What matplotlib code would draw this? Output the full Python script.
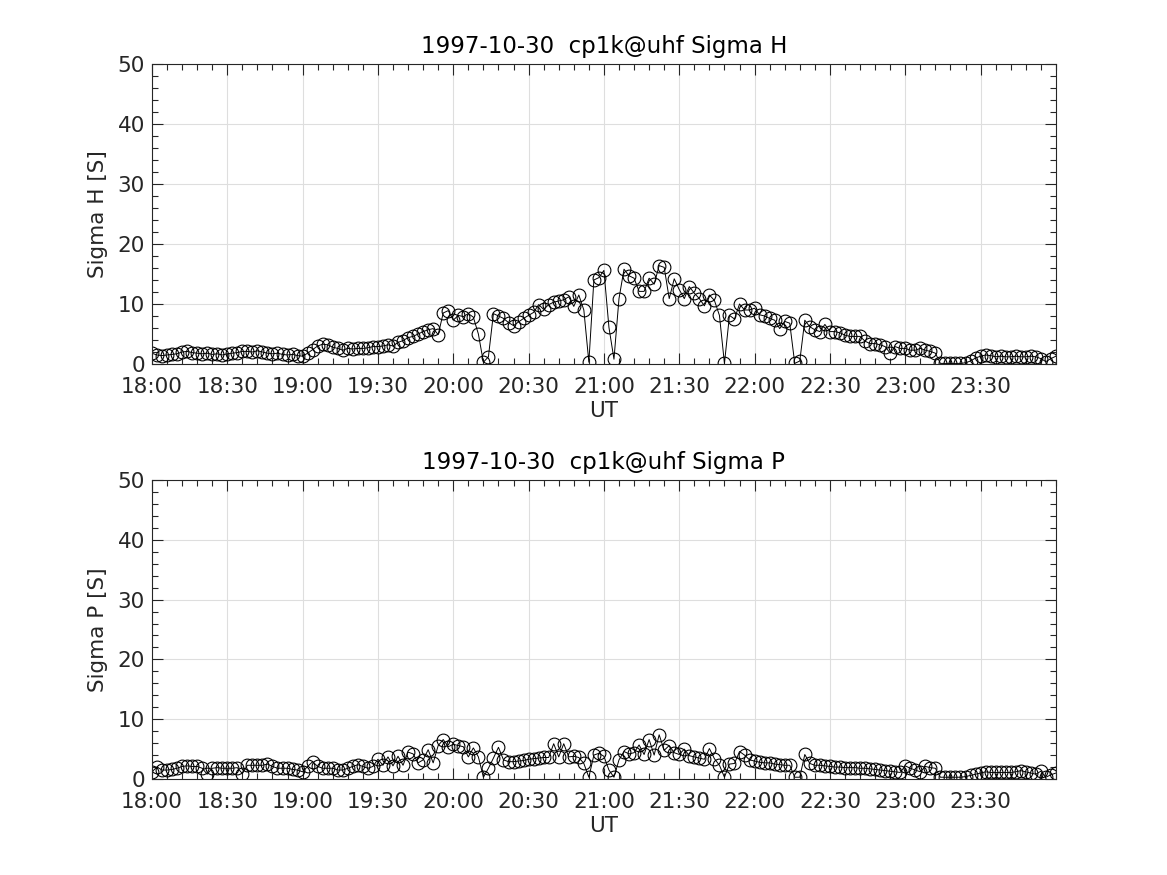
import numpy as np
import matplotlib
matplotlib.use("Agg")
from matplotlib import pyplot as plt
from matplotlib.ticker import MultipleLocator, FuncFormatter

# sample times: every 2 minutes from 18:00 UT
t_start_h = 18.0
t_step_min = 2.0

sigma_h = [
    1.8, 1.5, 1.4, 1.5, 1.6, 1.7, 2.0, 2.1, 1.9, 1.8,
    1.7, 1.8, 1.6, 1.7, 1.5, 1.7, 1.8, 1.9, 2.1, 2.1,
    2.0, 2.2, 2.0, 1.8, 1.7, 1.8, 1.6, 1.5, 1.6, 1.4,
    1.3, 1.8, 2.4, 3.0, 3.3, 3.2, 2.8, 2.6, 2.3, 2.6,
    2.5, 2.6, 2.6, 2.7, 2.9, 2.9, 3.0, 3.2, 3.0, 3.6,
    3.9, 4.4, 4.6, 5.0, 5.4, 5.7, 5.9, 4.9, 8.5, 8.9,
    7.3, 8.1, 7.9, 8.4, 7.8, 5.0, 0.3, 1.2, 8.4, 8.0,
    7.6, 6.9, 6.4, 7.0, 7.6, 8.1, 8.6, 9.9, 9.1, 9.9,
    10.3, 10.5, 10.7, 11.2, 9.6, 11.5, 9.0, 0.3, 14.0, 14.4,
    15.6, 6.1, 0.8, 10.9, 15.8, 14.7, 14.3, 12.1, 12.1, 14.3,
    13.3, 16.4, 16.1, 10.9, 14.2, 12.4, 10.9, 12.9, 11.8, 10.9,
    9.7, 11.5, 10.6, 8.1, 0.1, 8.1, 7.5, 10.0, 9.0, 9.0,
    9.3, 8.2, 8.0, 7.6, 7.3, 5.9, 7.1, 6.8, 0.1, 0.5,
    7.3, 6.2, 5.7, 5.4, 6.6, 5.4, 5.4, 5.2, 4.8, 4.6,
    4.6, 4.6, 3.8, 3.4, 3.4, 3.2, 2.9, 1.8, 2.9, 2.6,
    2.6, 2.3, 2.3, 2.6, 2.3, 2.1, 1.8, 0.1, 0.1, 0.1,
    0.1, 0.1, 0.2, 0.5, 1.0, 1.3, 1.5, 1.4, 1.2, 1.3,
    1.2, 1.2, 1.3, 1.2, 1.2, 1.3, 1.2, 0.9, 0.4, 0.9,
    1.3,
]

sigma_p = [
    1.2, 2.0, 1.5, 1.5, 1.6, 1.8, 2.1, 2.2, 2.1, 2.1,
    1.8, 0.8, 1.8, 1.9, 1.8, 1.8, 1.8, 1.9, 0.9, 2.3,
    2.3, 2.3, 2.3, 2.5, 2.1, 1.8, 1.8, 1.8, 1.6, 1.5,
    1.2, 2.1, 2.9, 2.1, 1.8, 1.8, 1.8, 1.5, 1.5, 1.8,
    2.1, 2.4, 2.1, 1.8, 2.1, 3.3, 2.3, 3.7, 2.2, 3.8,
    2.3, 4.5, 4.2, 2.7, 3.2, 4.9, 2.7, 5.6, 6.6, 5.4,
    5.8, 5.6, 5.4, 3.7, 5.2, 3.7, 0.3, 1.8, 3.5, 5.3,
    3.2, 2.9, 2.9, 3.0, 3.1, 3.3, 3.4, 3.5, 3.6, 3.6,
    5.9, 3.7, 5.9, 3.7, 3.8, 3.6, 2.6, 0.3, 4.0, 4.3,
    3.8, 1.5, 0.3, 3.2, 4.6, 4.2, 4.4, 5.7, 4.1, 6.6,
    4.0, 7.4, 4.8, 5.6, 4.4, 4.1, 5.0, 3.9, 3.7, 3.5,
    3.3, 5.1, 3.4, 2.3, 0.3, 2.5, 2.6, 4.6, 4.0, 3.2,
    3.0, 2.8, 2.7, 2.7, 2.5, 2.4, 2.3, 2.3, 0.3, 0.3,
    4.1, 2.6, 2.3, 2.3, 2.2, 2.1, 2.0, 2.0, 1.9, 1.9,
    1.9, 1.8, 1.8, 1.7, 1.6, 1.5, 1.4, 1.3, 1.2, 1.1,
    2.2, 1.8, 1.5, 1.2, 2.1, 1.9, 1.8, 0.3, 0.3, 0.3,
    0.3, 0.3, 0.4, 0.6, 0.8, 1.0, 1.2, 1.1, 1.1, 1.1,
    1.1, 1.1, 1.2, 1.4, 1.2, 1.0, 0.8, 1.3, 0.3, 0.7,
    1.0,
]

panels = [
    ("1997-10-30  cp1k@uhf Sigma H", "Sigma H [S]", sigma_h),
    ("1997-10-30  cp1k@uhf Sigma P", "Sigma P [S]", sigma_p),
]

txt = "#262626"
plt.rcParams["font.family"] = "DejaVu Sans"
plt.rcParams["font.size"] = 15.5

fig = plt.figure(figsize=(11.67, 8.75), dpi=100)
boxes = [[0.1302, 0.584, 0.7746, 0.3429], [0.1302, 0.1097, 0.7746, 0.3417]]


def hhmm(x, pos):
    h = int(round(x * 60)) // 60
    m = int(round(x * 60)) % 60
    return "{:02d}:{:02d}".format(h, m)


for box, (title, ylab, vals) in zip(boxes, panels):
    ax = fig.add_axes(box)
    t = t_start_h + np.arange(len(vals)) * t_step_min / 60.0
    ax.plot(t, vals, color="black", lw=0.7, marker="o", ms=9.2,
            mfc="none", mec="black", mew=0.8)
    ax.set_xlim(18, 24)
    ax.set_ylim(0, 50)
    ax.set_xticks(np.arange(18, 24, 0.5))
    ax.xaxis.set_major_formatter(FuncFormatter(hhmm))
    ax.xaxis.set_minor_locator(MultipleLocator(0.1))
    ax.set_yticks(np.arange(0, 51, 10))
    ax.yaxis.set_minor_locator(MultipleLocator(2))
    ax.tick_params(which="both", direction="in", top=True, right=True,
                   colors=txt, labelsize=15.5, width=0.8)
    ax.tick_params(which="major", length=8)
    ax.tick_params(axis="x", which="major", pad=9.5)
    ax.tick_params(axis="y", which="major", pad=5)
    ax.tick_params(which="minor", length=4)
    ax.grid(True, which="major", color="#dedede", lw=0.8)
    ax.set_axisbelow(True)
    for s in ax.spines.values():
        s.set_color(txt)
        s.set_linewidth(0.8)
    ax.set_title(title, fontsize=16.5, color="black", pad=8)
    ax.set_xlabel("UT", color=txt, labelpad=3)
    ax.set_ylabel(ylab, color=txt, labelpad=7)

fig.savefig("out.png", dpi=100, facecolor="white")
